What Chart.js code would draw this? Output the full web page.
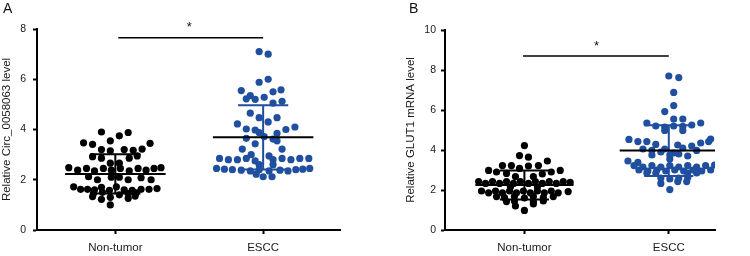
<!DOCTYPE html>
<html lang="en">
  <head>
    <meta charset="UTF-8" />
    <title>Circ_0058063 / GLUT1 levels</title>
    <script src="https://cdn.jsdelivr.net/npm/chart.js"></script>
    <style>
      body {
        margin: 0;
        background: #fff;
      }
      .panel {
        position: absolute;
        top: 0;
        width: 375px;
        height: 256px;
      }
      #panelA { left: 0; }
      #panelB { left: 375px; }
      .tag {
        position: absolute;
        top: 0px;
        font: 14px "Liberation Sans", Arial, sans-serif;
        color: #111;
      }
    </style>
  </head>
  <body>
    <div class="panel" id="panelA">
      <canvas id="chartA" width="375" height="256"></canvas>
      <div class="tag" style="left: 3px">A</div>
    </div>
    <div class="panel" id="panelB">
      <canvas id="chartB" width="375" height="256"></canvas>
      <div class="tag" style="left: 34px">B</div>
    </div>

    <script>
      const categories = ["Non-tumor", "ESCC"];

      // panel A - Circ_0058063
      const aNormalVals = [3.90, 3.88, 3.75, 3.55, 3.47, 3.41, 3.45, 3.20, 3.15, 3.20, 3.17, 3.22,
        2.92, 2.95, 2.86, 2.86, 2.66, 2.66, 2.48, 2.38, 2.45, 2.35, 2.45, 2.38, 2.45, 2.35, 2.45, 2.38,
        2.45, 2.48, 2.12, 2.00, 2.10, 2.10, 2.00, 2.08, 2.00, 1.72, 1.62, 1.62, 1.60, 1.70, 1.58, 1.72,
        1.60, 1.58, 1.62, 1.62, 1.65, 1.45, 1.50, 1.45, 1.48, 1.33, 1.22, 1.30, 1.26, 1.35, 1.00, 1.40];
      const aNormalJitter = [-0.094, 0.087, 0.027, -0.034, -0.215, -0.154, 0.235, -0.094, -0.034, 0.060, 0.121, 0.181,
        -0.154, 0.148, -0.094, 0.094, -0.034, 0.027, -0.315, -0.255, -0.195, -0.141, -0.081, -0.027, 0.034, 0.094, 0.154, 0.208,
        0.262, 0.309, -0.181, -0.121, -0.027, 0.027, 0.087, 0.174, 0.242, -0.282, -0.235, -0.188, -0.141, -0.094, -0.040, 0.007,
        0.060, 0.114, 0.174, 0.228, 0.282, -0.148, -0.087, 0.087, 0.141, -0.154, -0.094, -0.034, 0.087, 0.134, -0.034, 0.027];
      const aTumorVals = [7.10, 7.00, 6.00, 5.88, 5.55, 5.58, 5.50, 5.35, 5.22, 5.20, 5.28, 5.12, 5.05,
        4.65, 4.47, 4.47, 4.30, 4.22, 4.02, 3.98, 4.00, 4.10, 3.85, 3.88, 3.65, 3.62, 3.72, 3.43, 3.55,
        3.22, 3.22, 3.00, 2.95, 2.85, 2.80, 2.80, 2.85, 2.75, 2.80, 2.85, 2.80, 2.85, 2.85, 2.60, 2.60,
        2.45, 2.42, 2.40, 2.38, 2.35, 2.40, 2.35, 2.38, 2.35, 2.40, 2.42, 2.45, 2.22, 2.12, 2.12];
      const aTumorJitter = [-0.027, 0.034, 0.034, -0.027, -0.148, 0.121, 0.067, -0.087, -0.114, -0.054, 0.007, 0.128, 0.067,
        -0.087, -0.027, 0.094, 0.034, -0.174, -0.114, -0.054, 0.154, 0.215, 0.094, -0.027, -0.114, 0.067, 0.007, -0.054, 0.094,
        -0.141, 0.128, -0.081, 0.040, -0.295, -0.235, -0.174, -0.114, -0.054, 0.067, 0.128, 0.188, 0.248, 0.309, -0.027, 0.067,
        -0.315, -0.262, -0.208, -0.148, -0.087, -0.027, 0.040, 0.114, 0.168, 0.221, 0.268, 0.315, -0.047, 0.000, 0.060];
      const aMeans = [2.23, 3.69];
      const aSds = [0.78, 1.28];
      const aTicks = [0, 2, 4, 6, 8];

      // panel B - GLUT1 mRNA
      const bNormalVals = [4.22, 3.72, 3.64, 3.45, 3.22, 3.22, 3.20, 3.22, 3.08, 2.98, 2.90, 2.90, 2.98,
        2.83, 2.67, 2.67, 2.80, 2.15, 2.15,
        2.42, 2.33, 2.42, 2.33, 2.42, 2.33, 2.42, 2.33, 2.42, 2.33, 2.42, 2.33, 2.42, 2.38,
        1.95, 1.86, 1.95, 1.86, 1.95, 1.86, 1.95, 1.86, 1.95, 1.86, 1.95, 1.86, 1.92,
        1.67, 1.62, 1.68, 1.60, 1.68, 1.62, 1.67, 1.42, 1.45, 1.42, 1.45, 1.20, 1.30, 0.98];
      const bNormalJitter = [0, -0.034, 0.028, 0.159, -0.152, -0.090, 0.028, 0.097, -0.034, -0.248, -0.193, 0.186, 0.248,
        -0.124, -0.062, 0.062, 0.124, -0.097, 0.090,
        -0.317, -0.269, -0.221, -0.172, -0.124, -0.076, -0.028, 0.028, 0.076, 0.124, 0.172, 0.221, 0.269, 0.317,
        -0.297, -0.248, -0.200, -0.152, -0.103, -0.055, -0.007, 0.041, 0.090, 0.138, 0.186, 0.234, 0.303,
        -0.193, -0.138, -0.069, 0, 0.062, 0.131, 0.200, -0.124, -0.069, 0.062, 0.131, -0.062, 0.062, 0];
      const bTumorVals = [7.70, 7.62, 6.88, 6.22, 5.92, 5.55, 5.55, 5.35, 5.35, 5.20, 5.15, 5.20, 5.18, 5.25,
        4.98, 4.98, 4.53, 4.55, 4.42, 4.42, 4.35, 4.42, 4.28, 4.25, 4.20,
        4.05, 3.98, 4.05, 4.10, 3.98, 3.90, 3.85, 3.75, 3.75, 3.70, 3.80, 3.45, 3.38, 3.55,
        3.22, 3.15, 3.22, 3.15, 3.22, 3.15, 3.22, 3.15, 3.22, 3.25,
        3.00, 2.95, 3.00, 2.95, 3.00, 2.95, 3.00, 2.95, 3.00,
        2.85, 2.85, 2.85, 2.85, 2.60, 2.55, 2.60, 2.62, 2.33, 2.42, 2.42, 2.02];
      const bTumorJitter = [0, 0.069, 0.034, 0.034, -0.028, 0.034, 0.097, -0.152, 0.221, -0.090, -0.028, 0.034, 0.097, 0.159,
        -0.028, 0.097, -0.276, 0.290, -0.214, -0.152, 0.221, 0.276, -0.090, 0.062, 0.159,
        -0.179, -0.117, -0.028, 0.097, 0.193, -0.055, 0.034, -0.117, 0.007, 0.131, 0.069, -0.283, -0.214, 0.007,
        -0.241, -0.179, -0.117, -0.055, 0.007, 0.069, 0.131, 0.193, 0.255, 0.317,
        -0.207, -0.145, -0.083, -0.021, 0.041, 0.103, 0.166, 0.228, 0.290,
        -0.152, -0.090, 0.131, 0.193, -0.055, 0.007, 0.069, 0.131, -0.055, 0.062, 0.124, 0.007];
      const bMeans = [2.25, 3.97];
      const bSds = [0.73, 1.27];
      const bTicks = [0, 2, 4, 6, 8, 10];

      const BLACK = "#000000";
      const BLUE = "#1f4f9e";
      const groupColors = [BLACK, BLUE];
      const meanHalf = 0.34;
      const capHalf = 0.17;

      Chart.defaults.font.family = '"Liberation Sans", Arial, sans-serif';
      Chart.defaults.color = "#1a1a1a";

      function points(vals, jitter, center) {
        return vals.map((v, i) => ({ x: center + jitter[i], y: v }));
      }

      function errorBar(center, mean, sd) {
        const hi = mean + sd, lo = mean - sd;
        return [
          { x: center - capHalf, y: hi }, { x: center + capHalf, y: hi },
          { x: center, y: null },
          { x: center, y: hi }, { x: center, y: lo },
          { x: center + capHalf, y: null },
          { x: center - capHalf, y: lo }, { x: center + capHalf, y: lo },
        ];
      }

      const starPlugin = {
        id: "star",
        afterDraw(chart, args, opts) {
          const { ctx, scales } = chart;
          ctx.save();
          ctx.fillStyle = "#111";
          ctx.font = '13px "Liberation Sans", Arial, sans-serif';
          ctx.textAlign = "center";
          ctx.textBaseline = "middle";
          ctx.fillText("*", scales.x.getPixelForValue(1.5), scales.y.getPixelForValue(opts.y) + 3);
          ctx.restore();
        },
      };

      function makeChart(id, cfg) {
        const datasets = [];
        cfg.means.forEach((m, i) => {
          datasets.push({
            data: [{ x: i + 1 - meanHalf, y: m }, { x: i + 1 + meanHalf, y: m }],
            showLine: true, borderColor: BLACK, borderWidth: 2, pointRadius: 0, order: 0,
          });
          datasets.push({
            data: errorBar(i + 1, m, cfg.sds[i]),
            showLine: true, spanGaps: false, borderColor: groupColors[i], borderWidth: 2,
            pointRadius: 0, order: 0,
          });
        });
        datasets.push({
          data: points(cfg.normal, cfg.normalJitter, 1),
          backgroundColor: BLACK, pointRadius: 3.6, borderWidth: 0, order: 1,
        });
        datasets.push({
          data: points(cfg.tumor, cfg.tumorJitter, 2),
          backgroundColor: BLUE, pointRadius: 3.6, borderWidth: 0, order: 1,
        });
        datasets.push({
          data: [{ x: cfg.sigFrom, y: cfg.sigY }, { x: 2, y: cfg.sigY }],
          showLine: true, borderColor: BLACK, borderWidth: 1.6, pointRadius: 0, order: 0,
        });

        return new Chart(document.getElementById(id), {
          type: "scatter",
          data: { datasets },
          plugins: [starPlugin],
          options: {
            responsive: false,
            animation: false,
            layout: { padding: { top: cfg.top, right: 35, left: cfg.padLeft, bottom: 0 } },
            plugins: {
              legend: { display: false },
              tooltip: { enabled: false },
              star: { y: cfg.starY },
            },
            scales: {
              x: {
                type: "linear",
                min: cfg.xMin,
                max: cfg.xMax,
                afterBuildTicks: (s) => {
                  s.ticks = categories.map((c, i) => ({ value: i + 1 }));
                },
                afterFit: (s) => { s.height = 26; },
                ticks: {
                  autoSkip: false,
                  maxRotation: 0,
                  padding: 7,
                  font: { size: 11.5 },
                  callback: (v) => categories[Math.round(v) - 1],
                },
                grid: { drawOnChartArea: false, tickLength: 4, tickWidth: 2, color: BLACK },
                border: { color: BLACK, width: 2 },
              },
              y: {
                min: 0,
                max: cfg.yTicks[cfg.yTicks.length - 1],
                afterBuildTicks: (s) => {
                  s.ticks = cfg.yTicks.map((v) => ({ value: v }));
                },
                afterFit: (s) => { s.width = cfg.axisW; },
                ticks: { padding: cfg.tickPad, font: { size: 10.5 } },
                grid: { drawOnChartArea: false, tickLength: 4, tickWidth: 2, color: BLACK },
                border: { color: BLACK, width: 2 },
                title: {
                  display: true,
                  text: cfg.title,
                  font: { size: 11.5 },
                  padding: 0,
                },
              },
            },
          },
        });
      }

      makeChart("chartA", {
        normal: aNormalVals, normalJitter: aNormalJitter,
        tumor: aTumorVals, tumorJitter: aTumorJitter,
        means: aMeans, sds: aSds, yTicks: aTicks,
        title: "Relative Circ_0058063 level",
        xMin: 0.47, xMax: 2.52, top: 29, padLeft: 0, axisW: 37, tickPad: 7,
        sigY: 7.65, sigFrom: 1.02, starY: 8.2,
      });

      makeChart("chartB", {
        normal: bNormalVals, normalJitter: bNormalJitter,
        tumor: bTumorVals, tumorJitter: bTumorJitter,
        means: bMeans, sds: bSds, yTicks: bTicks,
        title: "Relative GLUT1 mRNA level",
        xMin: 0.45, xMax: 2.32, top: 30, padLeft: 29, axisW: 41, tickPad: 5,
        sigY: 8.7, sigFrom: 0.99, starY: 9.35,
      });
    </script>
  </body>
</html>
